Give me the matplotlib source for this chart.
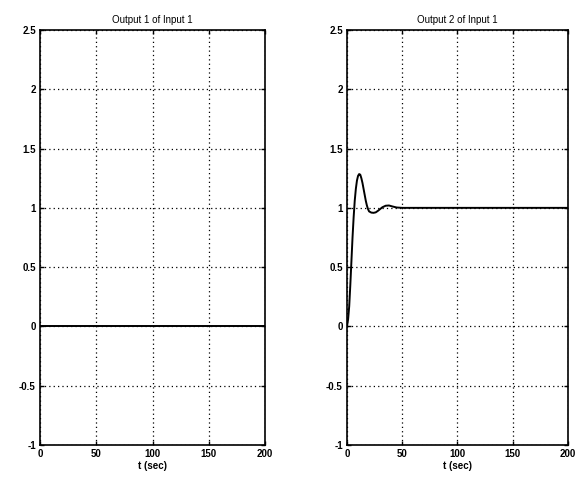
import matplotlib
matplotlib.use("Agg")
import matplotlib.pyplot as plt

t1 = [0, 200]
y1 = [0, 0]

t2 = [0, 1, 2, 3, 4, 5, 6, 7, 8, 9, 10, 11, 12, 13, 14, 15, 16, 17, 18, 19, 20,
      22, 24, 26, 28, 30, 32, 35, 38, 41, 45, 50, 60, 200]
y2 = [0, 0.06, 0.17, 0.35, 0.55, 0.75, 0.92, 1.06, 1.16, 1.23, 1.27, 1.285, 1.28,
      1.25, 1.21, 1.16, 1.11, 1.06, 1.02, 0.99, 0.97, 0.96, 0.958, 0.962, 0.975,
      0.99, 1.005, 1.018, 1.02, 1.012, 1.003, 1.0, 1.0, 1.0]

titles = ["Output 1 of Input 1", "Output 2 of Input 1"]
xticks = [0, 50, 100, 150, 200]
xticklabels = ["0", "50", "100", "150", "200"]
yticks = [-1, -0.5, 0, 0.5, 1, 1.5, 2, 2.5]
yticklabels = ["-1", "-0.5", "0", "0.5", "1", "1.5", "2", "2.5"]
xlabel = "t (sec)"

plt.rcParams['font.family'] = ['Liberation Sans', 'DejaVu Sans']
fig = plt.figure(figsize=(5.79, 4.78), dpi=100)
W, H = 579, 478
boxes = [(40, 30, 265, 445), (347, 30, 568, 445)]
data = [(t1, y1), (t2, y2)]
for (x0, ytop, x1, ybot), (t, y), title in zip(boxes, data, titles):
    ax = fig.add_axes([x0 / W, 1 - ybot / H, (x1 - x0) / W, (ybot - ytop) / H])
    ax.plot(t, y, color='black', lw=1.4)
    ax.set_xlim(0, 200)
    ax.set_ylim(-1, 2.5)
    ax.set_xticks(xticks)
    ax.set_xticklabels(xticklabels, fontweight='bold')
    ax.set_yticks(yticks)
    ax.set_yticklabels(yticklabels, fontweight='bold')
    ax.grid(True, color='black', linestyle=(0, (1, 2.5)), lw=0.9)
    ax.tick_params(direction='in', length=3, top=True, right=True, labelsize=7, pad=3, width=1)
    for s in ax.spines.values():
        s.set_linewidth(1.2)
    ax.set_title(title, fontsize=7, pad=5)
    ax.set_xlabel(xlabel, fontsize=7, labelpad=1, fontweight='bold')

fig.savefig("out.png", dpi=100)
